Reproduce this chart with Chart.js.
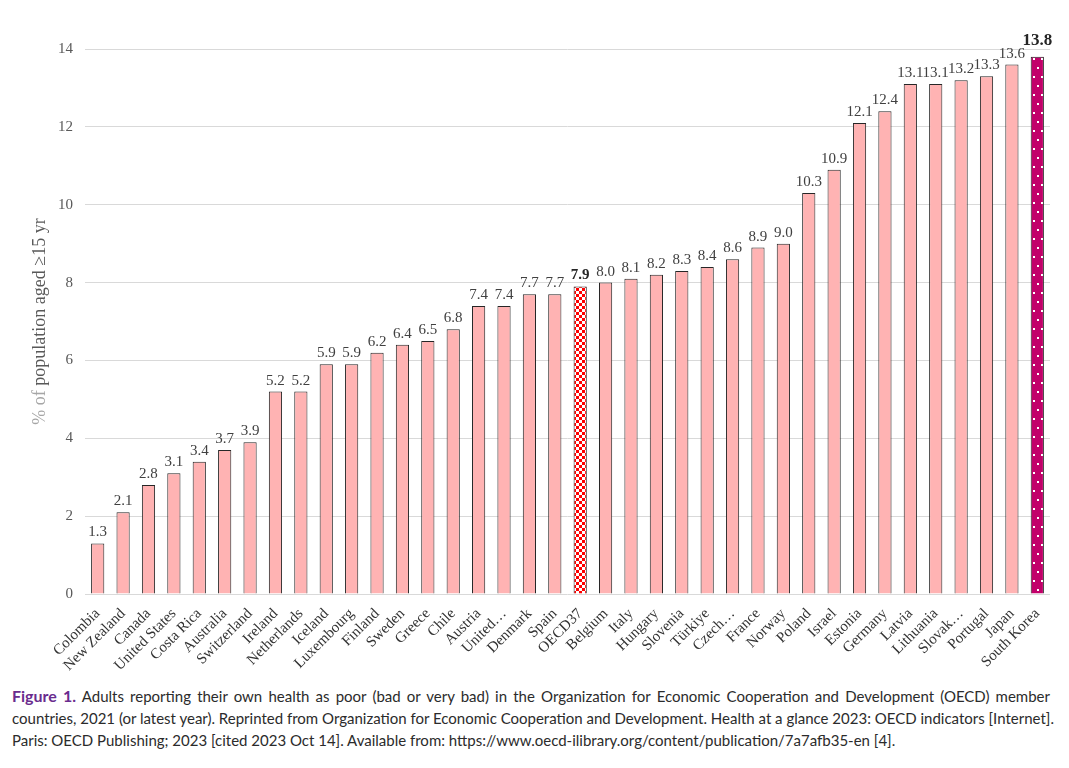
<!DOCTYPE html>
<html>
<head>
<meta charset="utf-8">
<script src="https://cdn.jsdelivr.net/npm/chart.js@4"></script>
<style>
  html, body { margin: 0; padding: 0; background: #fff; }
  #wrap { position: relative; width: 1069px; height: 768px; }
  #box { position: absolute; left: 0; top: 0; width: 1069px; height: 680px; }
  #caption {
    position: absolute; left: 12px; top: 685px; width: 1038px;
    font-family: Lato, "Open Sans", sans-serif; font-size: 15px; line-height: 22px;
    color: #2b2b2b;
  }
  #caption div { white-space: nowrap; text-align: justify; text-align-last: justify; }
  #caption div.last { text-align: left; text-align-last: left; }
  #caption b { color: #6a2c8e; font-size: 16px; }
</style>
</head>
<body>
<div id="wrap">
  <div id="box"><canvas id="chart"></canvas></div>
  <div id="caption">
    <div><b>Figure 1.</b> Adults reporting their own health as poor (bad or very bad) in the Organization for Economic Cooperation and Development (OECD) member</div>
    <div>countries, 2021 (or latest year). Reprinted from Organization for Economic Cooperation and Development. Health at a glance 2023: OECD indicators [Internet].</div>
    <div class="last">Paris: OECD Publishing; 2023 [cited 2023 Oct 14]. Available from: https://www.oecd-ilibrary.org/content/publication/7a7afb35-en [4].</div>
  </div>
</div>
<script>
const countries = [
  'Colombia', 'New Zealand', 'Canada', 'United States', 'Costa Rica', 'Australia',
  'Switzerland', 'Ireland', 'Netherlands', 'Iceland', 'Luxembourg', 'Finland',
  'Sweden', 'Greece', 'Chile', 'Austria', 'United…', 'Denmark', 'Spain', 'OECD37',
  'Belgium', 'Italy', 'Hungary', 'Slovenia', 'Türkiye', 'Czech…', 'France', 'Norway',
  'Poland', 'Israel', 'Estonia', 'Germany', 'Latvia', 'Lithuania', 'Slovak…',
  'Portugal', 'Japan', 'South Korea'
];
const poorHealth = [
  1.3, 2.1, 2.8, 3.1, 3.4, 3.7,
  3.9, 5.2, 5.2, 5.9, 5.9, 6.2,
  6.4, 6.5, 6.8, 7.4, 7.4, 7.7, 7.7, 7.9,
  8.0, 8.1, 8.2, 8.3, 8.4, 8.6, 8.9, 9.0,
  10.3, 10.9, 12.1, 12.4, 13.1, 13.1, 13.2,
  13.3, 13.6, 13.8
];
const yTicks = [0, 2, 4, 6, 8, 10, 12, 14];
const averageLabel = 'OECD37';
const highlightLabel = 'South Korea';

const PINK = '#ffb3b3';
const SERIF = '"Liberation Serif", serif';

// checkerboard fill for the OECD average bar
function checkerPattern() {
  const c = document.createElement('canvas');
  c.width = 6; c.height = 6;
  const g = c.getContext('2d');
  g.fillStyle = '#ffffff'; g.fillRect(0, 0, 6, 6);
  g.fillStyle = '#ff0000';
  g.fillRect(0, 0, 3, 3);
  g.fillRect(3, 3, 3, 3);
  return g.createPattern(c, 'repeat');
}

// dotted magenta fill for South Korea
function dotPattern() {
  const c = document.createElement('canvas');
  c.width = 8; c.height = 18;
  const g = c.getContext('2d');
  g.fillStyle = '#c2006a'; g.fillRect(0, 0, 8, 18);
  g.fillStyle = '#ffffff';
  g.fillRect(1, 4, 2, 2);
  g.fillRect(5, 13, 2, 2);
  return g.createPattern(c, 'repeat');
}

const fills = countries.map(c =>
  c === averageLabel ? checkerPattern() : c === highlightLabel ? dotPattern() : PINK);

// value labels above the bars
const valueLabels = {
  id: 'valueLabels',
  afterDatasetsDraw(chart) {
    const ctx = chart.ctx;
    const meta = chart.getDatasetMeta(0);
    ctx.save();
    ctx.textAlign = 'center';
    ctx.textBaseline = 'alphabetic';
    meta.data.forEach((bar, i) => {
      const name = countries[i];
      let gap = 7;
      if (name === highlightLabel) {
        ctx.font = 'bold 17px ' + SERIF;
        ctx.fillStyle = '#262626';
        gap = 12;
      } else if (name === averageLabel) {
        ctx.font = 'bold 15px ' + SERIF;
        ctx.fillStyle = '#262626';
      } else {
        ctx.font = '15px ' + SERIF;
        ctx.fillStyle = '#404040';
      }
      ctx.fillText(poorHealth[i].toFixed(1), bar.x, bar.y - gap);
    });
    ctx.restore();
  }
};

// two-tone rotated y axis title
const yTitle = {
  id: 'yTitle',
  afterDraw(chart) {
    const ctx = chart.ctx;
    const a = chart.chartArea;
    const part1 = '% of ';
    const part2 = 'population aged ≥15 yr';
    ctx.save();
    ctx.font = '18px ' + SERIF;
    const w1 = ctx.measureText(part1).width;
    const w2 = ctx.measureText(part2).width;
    ctx.translate(40, (a.top + a.bottom) / 2);
    ctx.rotate(-Math.PI / 2);
    ctx.textBaseline = 'middle';
    ctx.textAlign = 'left';
    const start = -(w1 + w2) / 2;
    ctx.fillStyle = '#a6a6a6';
    ctx.fillText(part1, start, 0);
    ctx.fillStyle = '#595959';
    ctx.fillText(part2, start + w1, 0);
    ctx.restore();
  }
};

new Chart(document.getElementById('chart'), {
  type: 'bar',
  data: {
    labels: countries,
    datasets: [{
      data: poorHealth,
      backgroundColor: fills,
      borderColor: '#262626',
      borderWidth: 1,
      borderSkipped: 'bottom',
      barPercentage: 0.52,
      categoryPercentage: 1.0
    }]
  },
  options: {
    responsive: true,
    maintainAspectRatio: false,
    animation: false,
    layout: { padding: { top: 49, right: 19, left: 0, bottom: 0 } },
    plugins: { legend: { display: false }, tooltip: { enabled: false } },
    scales: {
      x: {
        grid: { display: false },
        border: { display: false },
        ticks: {
          autoSkip: false, minRotation: 45, maxRotation: 45, padding: 3,
          color: '#333333', font: { family: SERIF, size: 15 }
        },
        afterFit(s) { s.height = 86; }
      },
      y: {
        min: 0, max: 14,
        afterBuildTicks(s) { s.ticks = yTicks.map(v => ({ value: v })); },
        grid: { color: '#d9d9d9', lineWidth: 1, drawTicks: false },
        border: { display: false },
        ticks: {
          padding: 12, color: '#595959',
          font: { family: SERIF, size: 15 }
        },
        afterFit(s) { s.width = 85; }
      }
    }
  },
  plugins: [valueLabels, yTitle]
});
</script>
</body>
</html>
